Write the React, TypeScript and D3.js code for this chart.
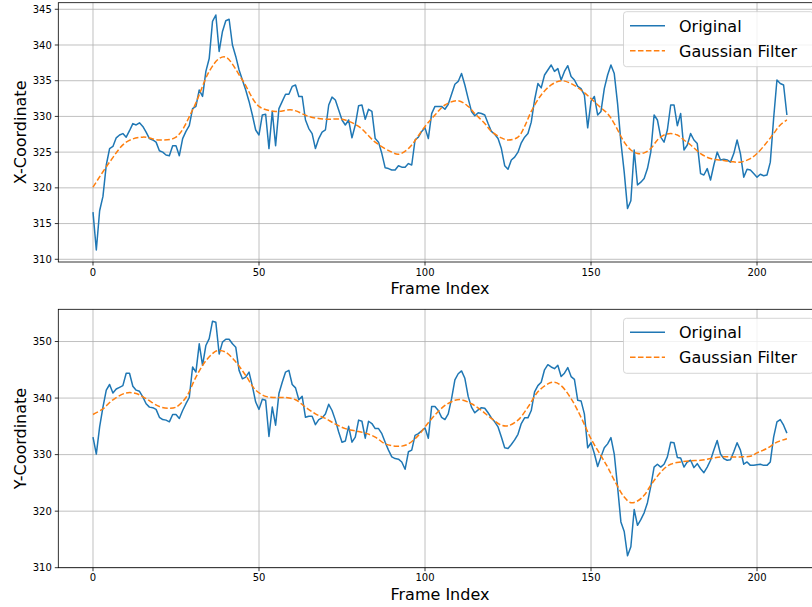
import React from "react";
import * as d3 from "d3";

const xOriginal = [
  316.6, 311.3, 316.8, 318.8, 323.2, 325.5, 325.8, 327.0, 327.4, 327.6,
  327.1, 328.0, 329.0, 328.8, 329.1, 328.6, 327.8, 326.9, 326.7, 326.4,
  325.2, 325.0, 324.6, 324.5, 325.9, 325.9, 324.5, 326.9, 327.9, 328.7,
  331.1, 331.4, 333.7, 332.8, 336.3, 338.1, 343.3, 344.2, 339.1, 341.9,
  343.4, 343.6, 340.0, 338.4, 336.5, 335.1, 333.7, 332.1, 330.2, 328.1,
  327.4, 330.2, 330.3, 325.5, 330.7, 325.9, 331.1, 332.1, 333.1, 333.1,
  334.2, 334.4, 332.8, 332.8, 329.5, 328.3, 327.6, 325.5, 326.9, 327.8,
  328.1, 331.6, 332.7, 332.3, 330.9, 329.5, 328.8, 329.5, 327.0, 328.8,
  331.5, 331.6, 329.6, 331.0, 330.7, 326.9, 326.4, 324.8, 322.8, 322.7,
  322.5, 322.5, 323.1, 322.9, 322.9, 323.4, 323.2, 326.7, 327.1, 327.9,
  328.4, 326.9, 330.4, 331.4, 331.4, 331.4, 331.0, 331.7, 333.1, 334.5,
  334.9, 336.0, 334.4, 332.5, 330.7, 330.1, 330.5, 330.4, 330.2, 329.0,
  327.9, 327.5, 326.9, 325.5, 323.1, 322.6, 323.9, 324.3, 325.0, 326.3,
  327.1, 327.6, 329.2, 332.3, 334.6, 334.0, 335.8, 336.5, 337.2, 336.3,
  336.7, 335.1, 336.3, 337.1, 335.6, 335.1, 334.2, 333.9, 333.0, 328.4,
  332.1, 332.8, 330.2, 330.7, 333.9, 335.8, 337.2, 336.0, 331.8, 326.4,
  322.2, 317.1, 318.2, 325.3, 320.4, 320.8, 321.3, 322.7, 325.0, 330.2,
  329.5, 327.1, 326.4, 328.1, 331.6, 331.6, 328.7, 330.4, 325.3, 326.0,
  327.6, 326.7, 326.2, 322.0, 321.8, 322.7, 321.1, 323.2, 325.0, 323.9,
  324.0, 323.9, 323.6, 324.8, 326.7, 324.8, 321.5, 322.6, 322.5, 322.0,
  321.5, 321.9, 321.7, 321.8, 323.6, 329.7, 335.1, 334.6, 334.4, 330.2,
];

const yOriginal = [
  333.1, 330.1, 334.9, 338.4, 341.4, 342.4, 340.9, 341.6, 341.9, 342.2,
  344.4, 344.4, 342.1, 341.4, 341.2, 340.2, 339.0, 338.4, 338.3, 338.0,
  336.6, 336.2, 336.1, 335.8, 337.1, 337.1, 336.4, 337.8, 339.0, 340.1,
  345.5, 344.6, 349.6, 345.8, 349.3, 350.5, 353.6, 353.4, 347.8, 349.9,
  350.4, 350.4, 349.6, 349.0, 344.9, 343.4, 343.7, 344.6, 342.1, 339.3,
  338.0, 339.8, 339.6, 333.2, 338.4, 335.2, 340.8, 342.8, 344.6, 344.9,
  342.4, 341.8, 339.7, 340.3, 336.6, 336.8, 336.8, 335.3, 336.2, 336.5,
  337.2, 338.9, 337.8, 336.1, 334.0, 332.2, 332.4, 335.0, 332.2, 333.1,
  336.1, 335.9, 332.9, 335.9, 335.5, 334.6, 334.6, 333.7, 332.2, 330.8,
  329.6, 329.3, 329.2, 328.7, 327.4, 330.5, 330.8, 333.4, 333.7, 334.2,
  334.7, 332.9, 338.5, 338.5, 337.8, 336.6, 336.2, 337.2, 339.9, 343.2,
  344.3, 344.8, 343.5, 340.3, 338.4, 337.4, 337.9, 338.3, 338.2, 337.4,
  336.5, 335.8, 334.9, 333.1, 331.2, 331.1, 331.8, 332.6, 333.6, 335.5,
  336.5, 336.5, 337.8, 341.1, 342.2, 342.8, 345.0, 345.9, 345.5, 345.2,
  345.8, 343.8, 344.4, 345.4, 343.8, 343.3, 339.6, 339.5, 337.2, 331.2,
  332.1, 330.2, 327.9, 329.6, 331.2, 331.9, 333.0, 330.1, 324.3, 318.1,
  316.4, 312.1, 313.7, 320.3, 317.5, 318.5, 319.7, 321.5, 324.4, 327.8,
  328.3, 327.8, 328.3, 329.6, 332.2, 332.1, 329.5, 329.4, 327.8, 328.7,
  329.0, 327.7, 328.4, 327.5, 326.8, 327.8, 329.0, 330.8, 332.5, 330.1,
  329.3, 329.0, 329.1, 330.5, 332.1, 330.8, 328.3, 328.7, 328.1, 328.1,
  328.2, 328.3, 328.1, 328.1, 328.7, 333.1, 335.8, 336.2, 335.2, 333.8,
];

const xSmoothFrames = [0, 5, 10, 15, 20, 25, 30, 35, 38, 40, 45, 50, 55, 60, 65, 70, 75, 80, 85, 90, 92, 95, 100, 103, 106, 110, 113, 115, 118, 120, 123, 125, 128, 130, 132, 135, 138, 141, 144, 147, 150, 153, 155, 157, 160, 162, 164, 166, 168, 170, 172, 174, 176, 178, 180, 183, 186, 189, 192, 195, 198, 200, 203, 205, 207, 209];
const xSmoothValues = [320.1, 323.6, 326.4, 327.1, 326.7, 327.1, 330.9, 336.3, 338.1, 338.3, 335.1, 331.4, 330.7, 330.9, 330.0, 329.6, 329.6, 328.6, 326.4, 325.0, 324.7, 325.5, 328.6, 330.2, 331.6, 332.2, 331.4, 330.4, 329.0, 327.9, 327.0, 326.7, 327.1, 328.6, 330.7, 333.0, 334.4, 335.0, 334.6, 333.7, 332.5, 331.2, 330.4, 329.0, 326.4, 325.3, 324.8, 324.9, 325.5, 326.7, 327.4, 327.6, 327.4, 326.7, 326.0, 324.8, 324.1, 323.9, 323.7, 323.6, 324.1, 324.8, 326.4, 327.6, 328.8, 329.5];

const ySmoothFrames = [0, 3, 6, 10, 13, 16, 20, 23, 25, 28, 31, 34, 37, 38, 40, 43, 46, 49, 52, 55, 58, 61, 64, 67, 70, 73, 76, 79, 82, 85, 88, 91, 93, 95, 98, 100, 103, 106, 109, 111, 114, 117, 120, 123, 125, 128, 131, 134, 137, 139, 141, 144, 147, 150, 153, 155, 157, 160, 162, 164, 166, 168, 170, 172, 174, 177, 180, 183, 186, 189, 192, 195, 198, 200, 203, 206, 209];
const ySmoothValues = [337.1, 338.1, 339.7, 340.9, 340.8, 339.9, 338.5, 338.2, 338.4, 340.1, 343.7, 346.6, 348.3, 348.4, 348.1, 346.4, 344.0, 341.4, 340.3, 340.1, 340.1, 339.7, 338.4, 337.2, 336.4, 335.4, 334.6, 334.2, 333.8, 333.1, 331.9, 331.5, 331.5, 331.9, 333.4, 334.9, 337.0, 338.7, 339.6, 339.7, 339.0, 337.8, 336.4, 335.2, 335.1, 336.1, 338.4, 341.1, 342.5, 342.8, 342.2, 339.9, 336.6, 332.8, 329.8, 327.8, 325.5, 322.5, 321.5, 321.8, 322.8, 324.6, 326.2, 327.5, 328.3, 328.7, 328.9, 329.0, 329.3, 329.6, 329.6, 329.6, 329.7, 330.3, 331.1, 332.2, 332.8];

const xTicks = [0, 50, 100, 150, 200];
const topYTicks = [310, 315, 320, 325, 330, 335, 340, 345];
const bottomYTicks = [310, 320, 330, 340, 350];
const seriesNames = ["Original", "Gaussian Filter"];
const yLabels = ["X-Coordinate", "Y-Coordinate"];
const xLabel = "Frame Index";

const FONT = "DejaVu Sans, sans-serif";
const BLUE = "#1f77b4";
const ORANGE = "#ff7f0e";

const LEFT = 58.3;
const RIGHT = 821.6;

type PanelProps = {
  id: string;
  top: number;
  bottom: number;
  domain: [number, number];
  yTicks: number[];
  original: number[];
  smoothFrames: number[];
  smoothValues: number[];
  yLabel: string;
};

function Panel(p: PanelProps) {
  const x = d3.scaleLinear().domain([-10.45, 219.45]).range([LEFT, RIGHT]);
  const y = d3.scaleLinear().domain(p.domain).range([p.bottom, p.top]);
  const lineOrig = d3
    .line<number>()
    .x((_, i) => x(i))
    .y((d) => y(d));
  const smoothData = p.smoothFrames.map((f, i) => [f, p.smoothValues[i]] as [number, number]);
  const lineSmooth = d3
    .line<[number, number]>()
    .x((d) => x(d[0]))
    .y((d) => y(d[1]))
    .curve(d3.curveCatmullRom.alpha(0.5));
  const midY = (p.top + p.bottom) / 2;
  const legTop = p.top + 9;
  return (
    <g>
      <defs>
        <clipPath id={p.id}>
          <rect x={LEFT} y={p.top} width={RIGHT - LEFT} height={p.bottom - p.top} />
        </clipPath>
      </defs>
      {/* grid */}
      {xTicks.map((t) => (
        <line key={"gx" + t} x1={x(t)} x2={x(t)} y1={p.top} y2={p.bottom} stroke="#b0b0b0" strokeWidth={0.8} />
      ))}
      {p.yTicks.map((t) => (
        <line key={"gy" + t} x1={LEFT} x2={RIGHT} y1={y(t)} y2={y(t)} stroke="#b0b0b0" strokeWidth={0.8} />
      ))}
      <g clipPath={`url(#${p.id})`}>
        <path d={lineOrig(p.original) || ""} fill="none" stroke={BLUE} strokeWidth={1.5} strokeLinejoin="round" />
        <path d={lineSmooth(smoothData) || ""} fill="none" stroke={ORANGE} strokeWidth={1.5} strokeDasharray="5.55 2.4" />
      </g>
      {/* spines */}
      <rect x={LEFT} y={p.top} width={RIGHT - LEFT} height={p.bottom - p.top} fill="none" stroke="#000" strokeWidth={0.8} />
      {/* x ticks */}
      {xTicks.map((t) => (
        <g key={"xt" + t}>
          <line x1={x(t)} x2={x(t)} y1={p.bottom} y2={p.bottom + 3.5} stroke="#000" strokeWidth={0.8} />
          <text x={x(t)} y={p.bottom + 13.6} textAnchor="middle" fontSize={10} fontFamily={FONT} fill="#000">
            {t}
          </text>
        </g>
      ))}
      {p.yTicks.map((t) => (
        <g key={"yt" + t}>
          <line x1={LEFT - 3.5} x2={LEFT} y1={y(t)} y2={y(t)} stroke="#000" strokeWidth={0.8} />
          <text x={LEFT - 6.5} y={y(t) + 3.6} textAnchor="end" fontSize={10} fontFamily={FONT} fill="#000">
            {t}
          </text>
        </g>
      ))}
      <text x={(LEFT + RIGHT) / 2} y={p.bottom + 32} textAnchor="middle" fontSize={16} fontFamily={FONT} fill="#000">
        {xLabel}
      </text>
      <text
        transform={`translate(25.5,${midY}) rotate(-90)`}
        textAnchor="middle"
        fontSize={16}
        fontFamily={FONT}
        fill="#000"
      >
        {p.yLabel}
      </text>
      {/* legend */}
      <rect x={623.5} y={legTop} width={190} height={55} rx={3} fill="#fff" fillOpacity={0.8} stroke="#cccccc" strokeWidth={0.8} />
      <line x1={630} x2={665} y1={legTop + 14} y2={legTop + 14} stroke={BLUE} strokeWidth={1.5} />
      <text x={679} y={legTop + 20} fontSize={16} fontFamily={FONT} fill="#000">
        {seriesNames[0]}
      </text>
      <line x1={630} x2={665} y1={legTop + 39} y2={legTop + 39} stroke={ORANGE} strokeWidth={1.5} strokeDasharray="5.55 2.4" />
      <text x={679} y={legTop + 45} fontSize={16} fontFamily={FONT} fill="#000">
        {seriesNames[1]}
      </text>
    </g>
  );
}

export default function App() {
  return (
    <svg
      width={812}
      height={607}
      style={{ position: "absolute", left: 0, top: 0, background: "#fff" }}
      xmlns="http://www.w3.org/2000/svg"
    >
      <rect x={0} y={0} width={812} height={607} fill="#fff" />
      <Panel
        id="clipTop"
        top={2.7}
        bottom={262}
        domain={[309.62, 345.92]}
        yTicks={topYTicks}
        original={xOriginal}
        smoothFrames={xSmoothFrames}
        smoothValues={xSmoothValues}
        yLabel={yLabels[0]}
      />
      <Panel
        id="clipBottom"
        top={309.3}
        bottom={567.7}
        domain={[310.0, 355.7]}
        yTicks={bottomYTicks}
        original={yOriginal}
        smoothFrames={ySmoothFrames}
        smoothValues={ySmoothValues}
        yLabel={yLabels[1]}
      />
    </svg>
  );
}
